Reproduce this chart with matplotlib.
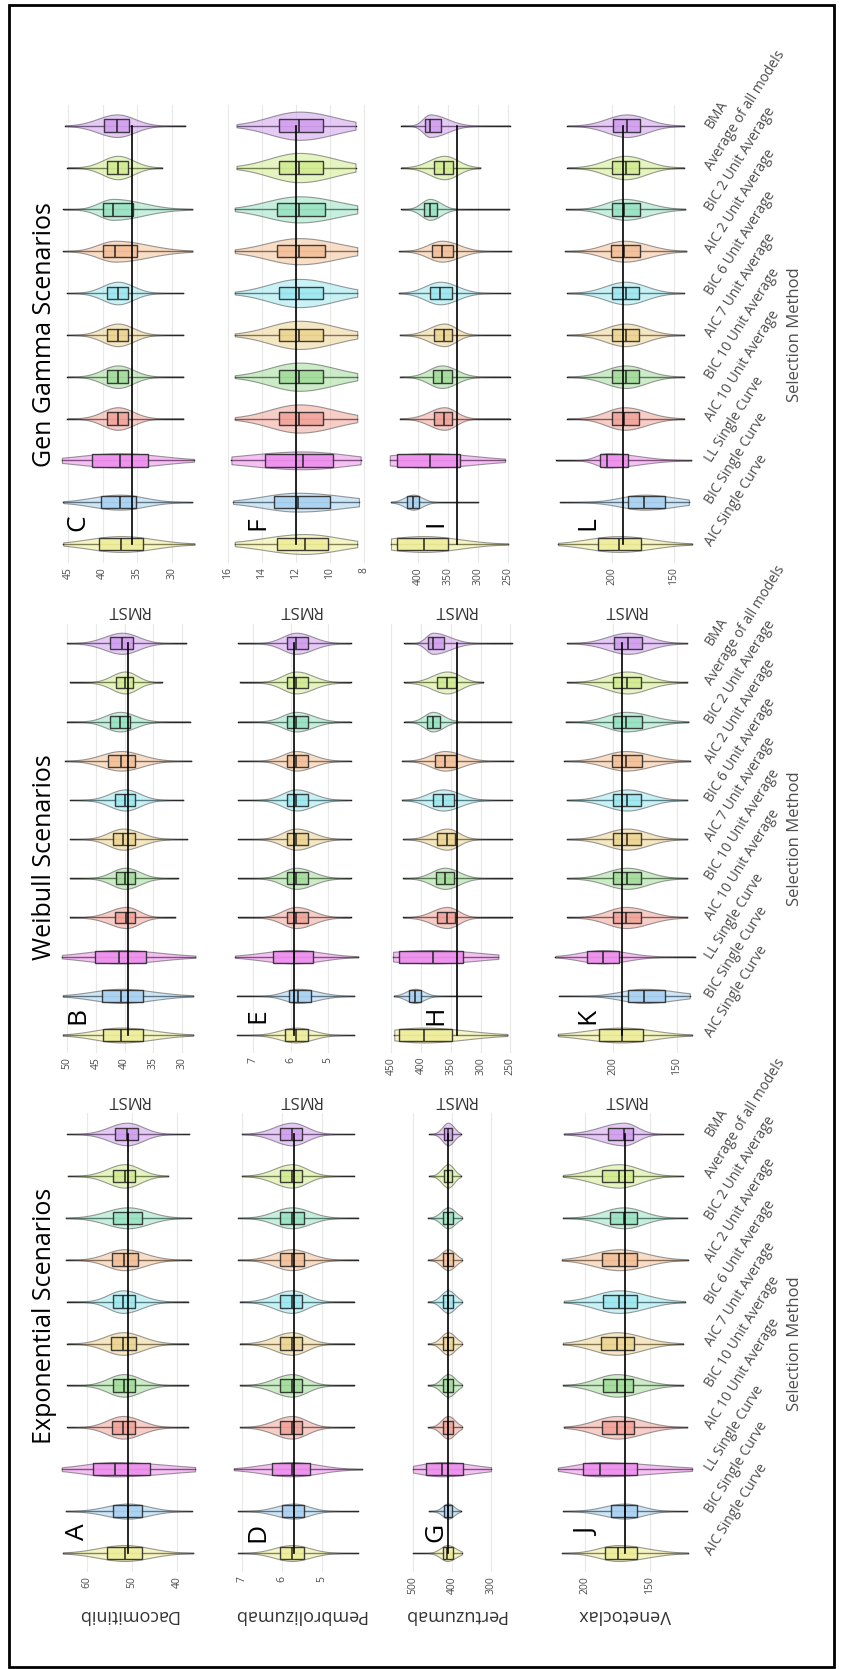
import numpy as np
import matplotlib.pyplot as plt
from matplotlib.patches import Rectangle
import matplotlib.transforms as mtransforms

plt.rcParams['font.family'] = ['Open Sans', 'DejaVu Sans']

methods = ["AIC Single Curve", "BIC Single Curve", "LL Single Curve",
           "AIC 10 Unit Average", "BIC 10 Unit Average", "AIC 7 Unit Average",
           "BIC 6 Unit Average", "AIC 2 Unit Average", "BIC 2 Unit Average",
           "Average of all models", "BMA"]
method_colors = ["#eeee9a", "#a9d3f2", "#ee8fee", "#f2a49b", "#a3dd9c", "#eed593",
                 "#9de8f0", "#f4c199", "#98e3c2", "#d2ec91", "#d39ff0"]
scenarios = ["Gen Gamma Scenarios", "Weibull Scenarios", "Exponential Scenarios"]
drugs = ["Dacomitinib", "Pembrolizumab", "Pertuzumab", "Venetoclax"]
letters = [["C", "F", "I", "L"], ["B", "E", "H", "K"], ["A", "D", "G", "J"]]

# rows: lo, q1, median, q3, hi of RMST for each method (AIC Single Curve first)
dac_gg = [[26.7, 34.1, 37.3, 40.5, 45.7], [27.0, 35.1, 37.5, 40.2, 45.7], [26.8, 33.5, 37.5, 41.5, 45.9],
          [28.3, 36.3, 37.8, 39.3, 45.1], [28.3, 36.3, 37.8, 39.3, 45.1], [28.3, 36.3, 37.8, 39.3, 45.1],
          [28.3, 36.3, 37.8, 39.3, 45.1], [27.0, 35.0, 38.2, 39.9, 45.7], [27.0, 35.6, 38.5, 39.9, 45.7],
          [31.4, 36.3, 37.8, 39.3, 45.1], [28.0, 36.2, 37.9, 39.8, 45.4]]
dac_wei = [[28.1, 36.8, 40.6, 43.7, 50.7], [28.1, 36.8, 40.6, 43.9, 50.7], [27.7, 36.3, 41.0, 45.1, 50.9],
           [31.2, 38.2, 39.7, 41.7, 49.5], [30.7, 38.2, 39.9, 41.5, 49.5], [29.1, 38.2, 40.3, 42.0, 49.5],
           [29.8, 38.2, 39.9, 41.7, 49.5], [28.4, 38.2, 40.6, 42.9, 50.3], [28.6, 39.0, 40.8, 42.5, 50.0],
           [33.5, 38.5, 39.9, 41.5, 49.5], [29.3, 38.5, 40.4, 42.5, 50.0]]
dac_exp = [[36.4, 47.8, 51.6, 55.6, 65.3], [36.7, 47.8, 50.9, 54.2, 64.7], [36.0, 46.0, 53.8, 58.7, 65.6],
           [37.5, 49.3, 52.0, 54.4, 64.4], [37.5, 49.3, 51.8, 54.2, 64.4], [37.5, 49.1, 52.0, 54.7, 64.4],
           [37.5, 49.3, 52.0, 54.2, 64.4], [37.0, 48.7, 51.8, 54.4, 64.7], [37.0, 47.8, 50.9, 54.2, 64.7],
           [42.0, 49.3, 51.6, 54.2, 64.2], [37.3, 48.7, 51.1, 53.8, 64.4]]
pem_gg = [[8.4, 10.1, 11.5, 13.1, 15.6], [8.3, 10.0, 11.9, 13.3, 15.7], [8.2, 9.8, 11.6, 13.8, 15.8],
          [8.4, 10.4, 11.8, 13.0, 15.6], [8.4, 10.4, 11.8, 13.0, 15.6], [8.4, 10.4, 11.8, 13.0, 15.6],
          [8.4, 10.4, 11.8, 13.0, 15.6], [8.4, 10.3, 11.8, 13.1, 15.6], [8.4, 10.3, 11.8, 13.1, 15.6],
          [8.5, 10.4, 11.8, 13.0, 15.5], [8.5, 10.4, 11.8, 13.0, 15.5]]
pem_wei = [[4.3, 5.55, 5.85, 6.15, 7.43], [4.3, 5.45, 5.8, 6.05, 7.43], [4.2, 5.4, 5.9, 6.47, 7.48],
           [4.4, 5.55, 5.85, 6.1, 7.4], [4.4, 5.55, 5.85, 6.1, 7.4], [4.4, 5.55, 5.85, 6.1, 7.4],
           [4.4, 5.55, 5.85, 6.1, 7.4], [4.4, 5.55, 5.85, 6.1, 7.4], [4.4, 5.55, 5.85, 6.1, 7.4],
           [4.4, 5.55, 5.85, 6.1, 7.35], [4.4, 5.55, 5.85, 6.1, 7.4]]
pem_exp = [[4.1, 5.45, 5.75, 6.05, 7.1], [4.1, 5.45, 5.7, 6.0, 7.1], [4.0, 5.3, 5.75, 6.25, 7.2],
           [4.2, 5.5, 5.75, 6.05, 7.05], [4.2, 5.5, 5.75, 6.05, 7.05], [4.2, 5.5, 5.75, 6.05, 7.05],
           [4.2, 5.5, 5.75, 6.05, 7.05], [4.1, 5.45, 5.75, 6.05, 7.1], [4.1, 5.45, 5.75, 6.05, 7.1],
           [4.2, 5.5, 5.75, 6.05, 7.0], [4.2, 5.5, 5.75, 6.05, 7.0]]
per_gg = [[250, 350, 390, 435, 445], [300, 398, 408, 418, 445], [255, 330, 380, 435, 447],
          [247, 343, 356, 373, 430], [247, 344, 360, 375, 430], [247, 343, 356, 373, 430],
          [247, 344, 363, 380, 432], [245, 341, 360, 376, 432], [248, 368, 380, 390, 428],
          [296, 341, 356, 373, 428], [247, 361, 380, 388, 428]]
per_wei = [[255, 348, 395, 437, 445], [300, 400, 410, 420, 445], [270, 330, 380, 437, 447],
           [247, 343, 356, 373, 430], [247, 344, 360, 375, 430], [247, 343, 356, 373, 430],
           [247, 344, 363, 380, 432], [245, 341, 360, 376, 432], [248, 368, 380, 390, 428],
           [296, 341, 356, 373, 428], [247, 361, 380, 388, 428]]
per_exp = [[375, 398, 412, 424, 500], [378, 400, 410, 420, 460], [300, 372, 426, 467, 500],
           [375, 398, 410, 422, 462], [375, 398, 410, 422, 462], [375, 398, 410, 422, 462],
           [375, 398, 410, 422, 462], [375, 398, 410, 422, 462], [375, 398, 410, 422, 462],
           [378, 400, 410, 421, 458], [378, 400, 410, 420, 458]]
ven_gg = [[135.5, 176.6, 194.4, 211.3, 243.5], [138, 157, 174, 187, 242], [136, 187, 204, 210, 245],
          [142, 178, 190, 200, 236], [142, 178, 189, 200, 236], [142, 178, 189, 200, 236],
          [142, 178, 189, 200, 236], [140, 177, 190, 201, 238], [141, 177, 190, 200, 237],
          [142, 178, 189, 200, 236], [142, 177, 188, 199, 236]]
ven_wei = [[138.3, 176.6, 193.0, 210.9, 243.0], [140, 159, 176, 188, 242], [136, 195, 208, 220, 245],
           [142, 178, 190, 200, 236], [142, 178, 189, 200, 236], [142, 178, 189, 200, 236],
           [142, 178, 189, 200, 236], [140, 177, 190, 201, 238], [141, 177, 190, 200, 237],
           [142, 178, 189, 200, 236], [142.2, 177.3, 188.3, 199.2, 235.9]]
ven_exp = [[120.8, 160.0, 174.6, 184.6, 217.7], [121.5, 160.0, 169.2, 180.0, 216.9], [117.7, 160.0, 188.5, 201.5, 220.8],
           [121.5, 162.3, 175.4, 186.9, 216.2], [124.6, 163.1, 175.4, 186.2, 216.9], [124.6, 162.3, 175.4, 187.7, 216.9],
           [123.1, 160.0, 173.8, 186.2, 216.2], [120.8, 160.0, 173.8, 186.9, 217.7], [121.5, 160.0, 170.0, 180.8, 216.9],
           [124.6, 163.1, 173.8, 186.9, 216.9], [124.6, 163.1, 170.0, 182.3, 216.2]]

# violin half-widths (category units)
half_width = [0.19, 0.18, 0.17, 0.27, 0.27, 0.27, 0.27, 0.25, 0.25, 0.28, 0.27]

panels = [[dac_gg, pem_gg, per_gg, ven_gg],
          [dac_wei, pem_wei, per_wei, ven_wei],
          [dac_exp, pem_exp, per_exp, ven_exp]]
true_rmst = [[35.7, 12.0, 335.5, 191.1],
             [39.4, 5.9, 340.0, 193.2],
             [50.9, 5.7, 410.0, 169.2]]
ticks = [[[30, 35, 40, 45], [8, 10, 12, 14, 16], [250, 300, 350, 400], [150, 200]],
         [[30, 35, 40, 45, 50], [5, 6, 7], [250, 300, 350, 400, 450], [150, 200]],
         [[40, 50, 60], [5, 6, 7], [300, 400, 500], [150, 200]]]
xlims = [[(46.9, 25.9), (16.0, 7.53), (450, 226.7), (250, 129)],
         [(52.1, 26.9), (7.67, 3.83), (455.5, 230.3), (249.2, 132)],
         [(67.1, 34.9), (7.35, 3.75), (564, 220.5), (226.9, 111.5)]]

# layout (pixels)
W, H = 841, 1669
col_lr = [(55, 200), (228, 372), (388, 522), (550, 700)]
row_c0 = [544, 1035, 1553]
row_step = [41.83, 39.17, 41.9]
xlabel_y = [610, 1100, 1615]
title_y = [335, 857, 1316]
width_scale = [[1.0, 1.25, 1.0, 1.0], [1.0, 1.0, 1.0, 1.0], [1.0, 1.0, 1.0, 1.0]]

fig = plt.figure(figsize=(W / 100, H / 100), dpi=100)
fig.patch.set_facecolor('white')

for r in range(3):
    step = row_step[r]
    bottom = row_c0[r] + 0.45 * step
    top = row_c0[r] - 10.5 * step
    for c in range(4):
        L, R = col_lr[c]
        ax = fig.add_axes([L / W, 1 - bottom / H, (R - L) / W, (bottom - top) / H])
        ax.set_facecolor('white')
        for s in ax.spines.values():
            s.set_visible(False)
        data = panels[r][c]
        for i, (lo, q1, med, q3, hi) in enumerate(data):
            v = np.linspace(lo, hi, 300)
            s_lo = max(med - q1, 1e-6) / 0.674
            s_hi = max(q3 - med, 1e-6) / 0.674
            dens = np.where(v < med, np.exp(-0.5 * ((v - med) / s_lo) ** 2),
                            np.exp(-0.5 * ((v - med) / s_hi) ** 2))
            w = half_width[i] * width_scale[r][c] * dens
            ax.plot([lo, hi], [i, i], color='black', lw=1.0, zorder=1)
            ax.fill_between(v, i - w, i + w, facecolor=method_colors[i], alpha=0.55,
                            edgecolor='#4a4a4a', lw=0.8, zorder=2)
            ax.bxp([dict(med=med, q1=q1, q3=q3, whislo=q1, whishi=q3, fliers=[])],
                   positions=[i], widths=0.3, orientation='horizontal',
                   showcaps=False, showfliers=False, patch_artist=True,
                   boxprops=dict(facecolor=method_colors[i], edgecolor='#2a2a2a', lw=1.0, alpha=0.9),
                   medianprops=dict(color='#222222', lw=1.1),
                   whiskerprops=dict(lw=0), zorder=3)
        ax.plot([true_rmst[r][c]] * 2, [0, 10], color='black', lw=1.2, zorder=5)
        ax.set_xlim(*xlims[r][c])
        ax.set_ylim(-0.45, 10.5)
        ax.set_xticks(ticks[r][c])
        ax.set_xticklabels([str(t) for t in ticks[r][c]])
        ax.tick_params(axis='x', length=0, pad=3, labelsize=7.5, labelcolor='#4d4d4d',
                       labelrotation=90)
        ax.grid(axis='x', color='#e8e8e8', lw=0.8)
        ax.set_axisbelow(True)
        ax.set_yticks(range(len(methods)))
        if c == 3:
            ax.yaxis.tick_right()
            ax.set_yticklabels(methods, rotation=58, ha='left', rotation_mode='anchor',
                               fontsize=10, color='#4d4d4d')
            ax.tick_params(axis='y', length=0, pad=5)
            ax.yaxis.set_label_position('right')
            ax.set_ylabel('Selection Method', rotation=90, fontsize=12, color='#4d4d4d')
            ax.yaxis.set_label_coords((795 - L) / (R - L), 5.45 / 10.95)
            ax.yaxis.label.set_va('center')
        else:
            ax.tick_params(axis='y', left=False, labelleft=False)
        if r == 2:
            ax.set_xlabel(drugs[c], rotation=180, fontsize=13, color='#333333')
        else:
            ax.set_xlabel('RMST', rotation=180, fontsize=12, color='#333333')
        ax.xaxis.set_label_coords(0.5, (bottom - xlabel_y[r]) / (bottom - top))
        ax.xaxis.label.set_va('center')
        tr = mtransforms.blended_transform_factory(ax.transAxes, ax.transData)
        lx = [(78 - L) / (R - L), (258 - L) / (R - L), (436 - L) / (R - L), (588 - L) / (R - L)][c]
        ax.text(lx, 0.5, letters[r][c], transform=tr, rotation=90, fontsize=19,
                ha='center', va='center', color='black', zorder=6)
    fig.text(45 / W, 1 - title_y[r] / H, scenarios[r], rotation=90, fontsize=18,
             ha='center', va='center', color='black')

fig.add_artist(Rectangle((9 / W, 1 - 1667 / H), (834 - 9) / W, (1667 - 5) / H,
                         transform=fig.transFigure, fill=False, ec='black', lw=2))

fig.savefig('out.png', dpi=100, facecolor='white')
